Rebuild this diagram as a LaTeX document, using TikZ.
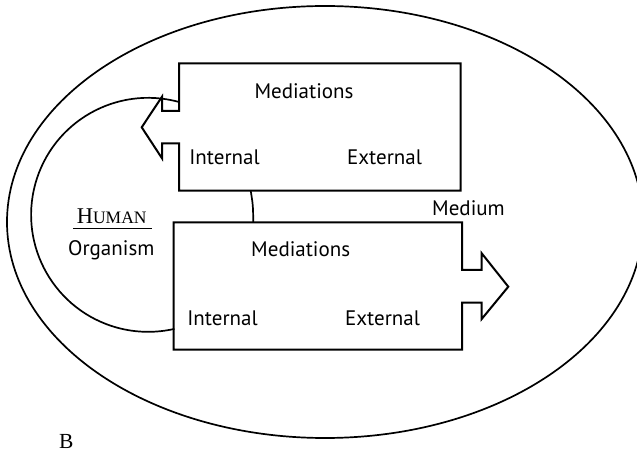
\documentclass[tikz,border=0pt]{standalone}
\usepackage{fontspec}
\setmainfont{Liberation Serif}
\newfontfamily\labelfont{PT Sans}
\newcommand{\fakesc}[2]{{\fontsize{22.5}{24}\selectfont #1}{\fontsize{17.5}{20}\selectfont #2}}
\begin{document}
\begin{tikzpicture}[x=1pt,y=-1pt,
  boxline/.style={line width=2pt,line join=miter},
  curveline/.style={line width=1.7pt},
  lbl/.style={font=\labelfont\fontsize{21}{24}\selectfont,inner sep=0pt,anchor=base},
  serifl/.style={font=\fontsize{21.5}{24}\selectfont,inner sep=0pt,anchor=base}]
\useasboundingbox (0,0) rectangle (637,454);
\clip (0,0) rectangle (637,454);
% outer ellipse (Medium)
\draw[curveline] (325,222) ellipse [x radius=318, y radius=216];
% top box with left-pointing arrow
\draw[boxline] (179,63.3) -- (460.5,63.3) -- (460.5,190.7) -- (179,190.7)
  -- (179,143.3) -- (162,143.3) -- (162,158.3) -- (141.7,127.3)
  -- (162,96.7) -- (162,111) -- (179,111) -- cycle;
% bottom box with right-pointing arrow
\draw[boxline] (173.7,222.5) -- (462,222.5) -- (462,270) -- (481.7,270)
  -- (481.7,253.3) -- (508.3,286.7) -- (481.7,319) -- (481.7,302.7)
  -- (462,302.7) -- (462,349.5) -- (173.7,349.5) -- cycle;
% connector coordinates
\coordinate (topleft) at (179,102);
\coordinate (botleft) at (174.3,329);
\coordinate (topbot) at (250.7,190.7);
\coordinate (bottop) at (253.3,222.5);
% big loop from top box to bottom box
\draw[curveline] (topleft) arc[start angle=-74.7, end angle=-283, radius=117];
% small link between boxes
\draw[curveline] (topbot) .. controls (253,205) .. (bottop);
% labels
\node[lbl] (med1) at (304,98.3) {Mediations};
\node[lbl] (int1) at (224.5,165) {Internal};
\node[lbl] (ext1) at (384.5,165) {External};
\node[lbl] (medium) at (468.5,216) {Medium};
\node[serifl] (human) at (111.7,223.3) {\fakesc{H}{UMAN}};
\draw[line width=1.8pt] (73,228.5) -- (151.7,228.5);
\node[lbl] (org) at (111.3,255.7) {Organism};
\node[lbl] (med2) at (300.7,257) {Mediations};
\node[lbl] (int2) at (222.5,325) {Internal};
\node[lbl] (ext2) at (382.5,325) {External};
\node[serifl] (blabel) at (66.3,448.5) {B};
\end{tikzpicture}
\end{document}
